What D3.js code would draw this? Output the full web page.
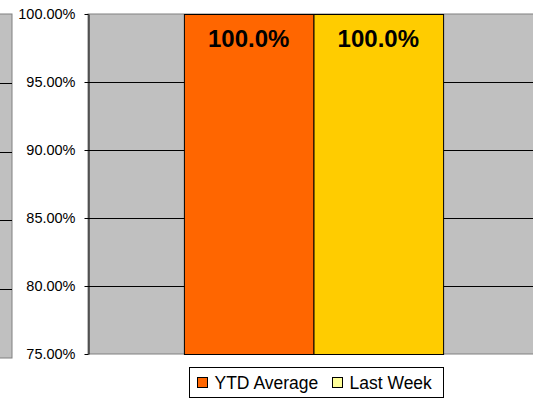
<!DOCTYPE html>
<html lang="en">
<head>
  <meta charset="UTF-8" />
  <title>YTD vs Last Week</title>
  <script src="https://cdn.jsdelivr.net/npm/d3@7"></script>
  <style>
    body { margin: 0; background: #fff; }
    svg text { font-family: "Liberation Sans", Arial, sans-serif; }
  </style>
</head>
<body>
<div id="chart"></div>
<script>
const categories = ["YTD Average", "Last Week"];
const values = [100.0, 100.0];
const barColors = ["#ff6600", "#ffcc00"];
const legendColors = ["#ff6600", "#ffff99"];
const yTicks = [75, 80, 85, 90, 95, 100];

const W = 533, H = 402;
const plot = { left: 88, right: 539, top: 14, bottom: 354 };

const svg = d3.select("#chart").append("svg")
  .attr("width", W)
  .attr("height", H);

// partial neighbour panel on the left edge
const yLeft = d3.scaleLinear().domain([75, 100]).range([358, 14]);
svg.append("rect")
  .attr("x", -20).attr("y", yLeft(100))
  .attr("width", 32).attr("height", yLeft(75) - yLeft(100))
  .attr("fill", "#c0c0c0").attr("stroke", "#808080");
svg.append("g").selectAll("line")
  .data(yTicks.slice(1, -1))
  .join("line")
  .attr("x1", 0).attr("x2", 12)
  .attr("y1", d => Math.round(yLeft(d)) + 0.5)
  .attr("y2", d => Math.round(yLeft(d)) + 0.5)
  .attr("stroke", "#000");

// main plot
const y = d3.scaleLinear().domain([75, 100]).range([plot.bottom, plot.top]);
const x0 = d3.scaleBand().domain(["all"]).range([plot.left, plot.right]).paddingOuter(0.37);
const x1 = d3.scaleBand().domain(categories).range([0, x0.bandwidth()]);

svg.append("rect")
  .attr("x", plot.left).attr("y", plot.top)
  .attr("width", plot.right - plot.left).attr("height", plot.bottom - plot.top)
  .attr("fill", "#c0c0c0").attr("stroke", "#808080");

svg.append("g").selectAll("line")
  .data(yTicks.slice(1, -1))
  .join("line")
  .attr("x1", plot.left).attr("x2", plot.right)
  .attr("y1", d => Math.round(y(d)) + 0.5)
  .attr("y2", d => Math.round(y(d)) + 0.5)
  .attr("stroke", "#000");

const bars = svg.append("g").attr("transform", `translate(${x0("all")},0)`);
bars.selectAll("rect")
  .data(values)
  .join("rect")
  .attr("x", (d, i) => x1(categories[i]) + 0.5)
  .attr("y", d => y(d) + 0.5)
  .attr("width", x1.bandwidth())
  .attr("height", d => y(75) - y(d))
  .attr("fill", (d, i) => barColors[i])
  .attr("stroke", "#000");

bars.selectAll("text")
  .data(values)
  .join("text")
  .attr("x", (d, i) => x1(categories[i]) + x1.bandwidth() / 2)
  .attr("y", d => y(d) + 33)
  .attr("text-anchor", "middle")
  .attr("font-size", 24)
  .attr("font-weight", "bold")
  .text(d => d.toFixed(1) + "%");

svg.append("g")
  .attr("transform", `translate(${plot.left + 0.5},0)`)
  .call(d3.axisLeft(y).tickValues(yTicks).tickSizeInner(4).tickSizeOuter(0).tickPadding(9)
    .tickFormat(d => d.toFixed(2) + "%"))
  .call(g => g.select(".domain").attr("stroke", "#000"))
  .call(g => g.selectAll(".tick line").attr("stroke", "#000"))
  .call(g => g.selectAll(".tick text").attr("font-size", 14.5).attr("fill", "#000")
    .attr("font-family", "'Liberation Sans', Arial, sans-serif"));

// legend
const legend = svg.append("g").attr("transform", "translate(189.5,367.5)");
legend.append("rect")
  .attr("width", 254).attr("height", 30)
  .attr("fill", "#fff").attr("stroke", "#000");
const legendX = [8, 143];
const items = legend.selectAll("g.item")
  .data(categories)
  .join("g")
  .attr("class", "item")
  .attr("transform", (d, i) => `translate(${legendX[i]},10)`);
items.append("rect")
  .attr("width", 10).attr("height", 10)
  .attr("fill", (d, i) => legendColors[i])
  .attr("stroke", "#000");
items.append("text")
  .attr("x", 17).attr("y", 11)
  .attr("font-size", 17.5)
  .text(d => d);
</script>
</body>
</html>
